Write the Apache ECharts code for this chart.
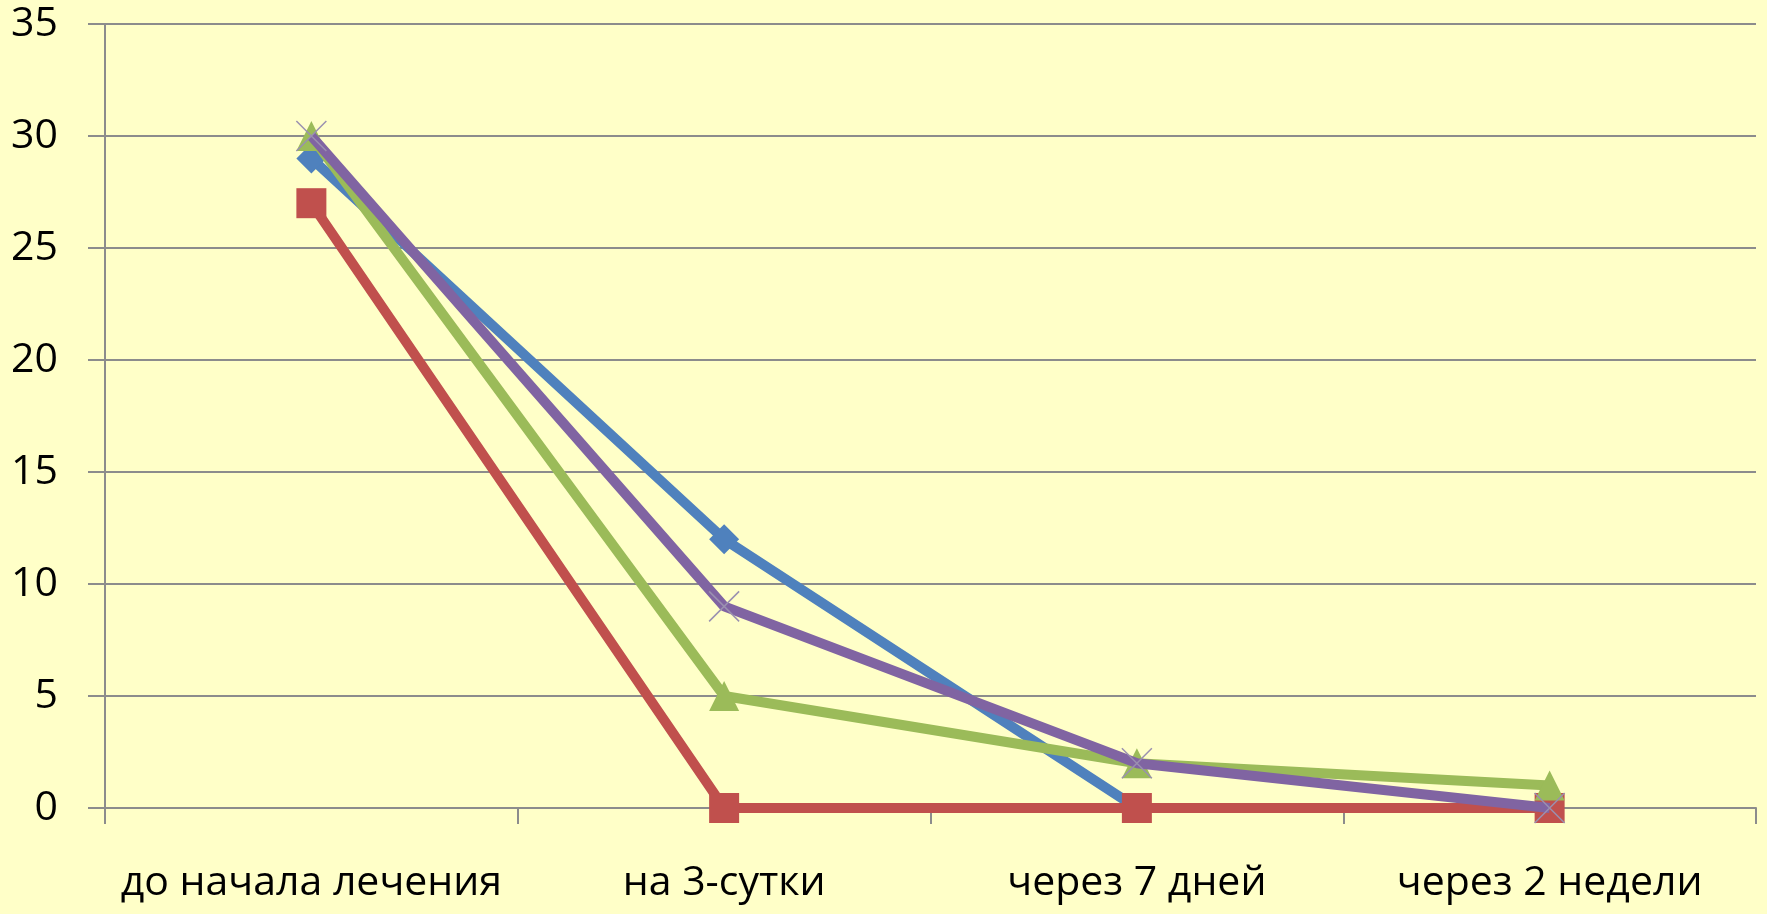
<!DOCTYPE html>
<html>
<head>
<meta charset="utf-8">
<script src="https://cdn.jsdelivr.net/npm/echarts@6/dist/echarts.min.js"></script>
<style>
html,body{margin:0;padding:0;background:#FFFFC8;}
#chart{width:1767px;height:914px;}
</style>
</head>
<body>
<div id="chart"></div>
<script>
const categories = ['до начала лечения', 'на 3-сутки', 'через 7 дней', 'через 2 недели'];
const seriesBlue = [29, 12, 0, 0];
const seriesRed = [27, 0, 0, 0];
const seriesGreen = [30, 5, 2, 1];
const seriesPurple = [30, 9, 2, 0];
const yTicks = { min: 0, max: 35, interval: 5 };

const FONT = '"Open Sans", "Noto Sans", sans-serif';
const chart = echarts.init(document.getElementById('chart'));
const gridColor = '#8C8C8C';

function lineSeries(data, color, symbol, size, z, extraItem) {
  return {
    type: 'line',
    data: data,
    symbol: symbol,
    symbolSize: size,
    z: z,
    lineStyle: { color: color, width: 10 },
    itemStyle: Object.assign({ color: color }, extraItem || {}),
    emphasis: { disabled: true },
    animation: false
  };
}

chart.setOption({
  backgroundColor: '#FFFFC8',
  animation: false,
  grid: { left: 105, right: 11, top: 24, bottom: 106, containLabel: false },
  xAxis: {
    type: 'category',
    data: categories,
    boundaryGap: true,
    axisLine: { lineStyle: { color: gridColor, width: 2 } },
    axisTick: { show: true, length: 16, lineStyle: { color: gridColor, width: 2 } },
    axisLabel: { color: '#000', fontFamily: FONT, fontSize: 41, margin: 55, interval: 0 },
    splitLine: { show: false }
  },
  yAxis: {
    type: 'value',
    min: yTicks.min, max: yTicks.max, interval: yTicks.interval,
    axisLine: { show: true, lineStyle: { color: gridColor, width: 2 } },
    axisTick: { show: true, length: 17, lineStyle: { color: gridColor, width: 2 } },
    axisLabel: { color: '#000', fontFamily: FONT, fontSize: 41, margin: 47 },
    splitLine: { show: true, lineStyle: { color: gridColor, width: 2 } }
  },
  series: [
    lineSeries(seriesBlue, '#4F81BD', 'diamond', 30, 2),
    lineSeries(seriesRed, '#C0504D', 'rect', 30, 3),
    lineSeries(seriesGreen, '#9BBB59', 'triangle', 30, 4),
    lineSeries(seriesPurple, '#8064A2', 'path://M0,0L10,10M10,0L0,10', 30, 5, { borderColor: '#9A90B0', borderWidth: 1.5 })
  ]
});
</script>
</body>
</html>
